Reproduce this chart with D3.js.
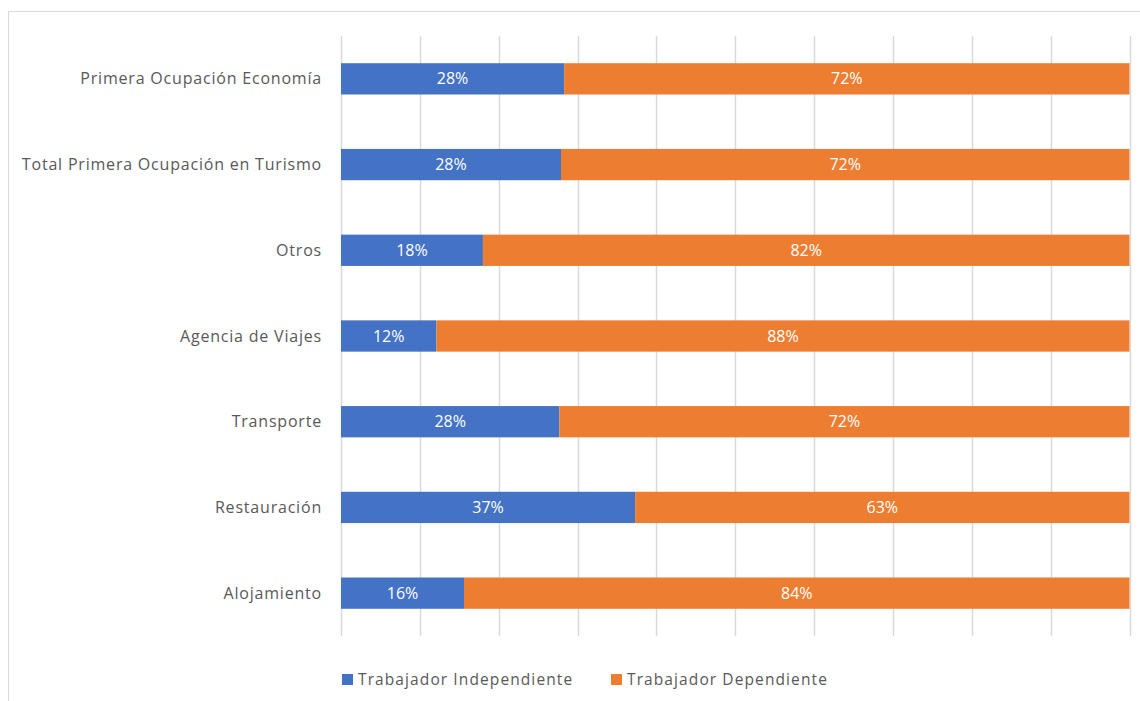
<!DOCTYPE html>
<html>
<head>
<meta charset="utf-8">
<script src="https://cdn.jsdelivr.net/npm/d3@7"></script>
<style>
  body { margin: 0; background: #fff; }
  svg { font-family: "Open Sans", "Noto Sans", sans-serif; }
</style>
</head>
<body>
<svg width="1140" height="701"></svg>
<script>
var categories = ["Primera Ocupación Economía", "Total Primera Ocupación en Turismo", "Otros",
  "Agencia de Viajes", "Transporte", "Restauración", "Alojamiento"];
var independiente = [28.3, 27.9, 18.0, 12.1, 27.7, 37.3, 15.6];
var dependiente = independiente.map(function(v) { return 100 - v; });
var seriesNames = ["Trabajador Independiente", "Trabajador Dependiente"];
var colors = ["#4472c4", "#ed7d31"];

var svg = d3.select("svg"),
    width = +svg.attr("width"),
    height = +svg.attr("height");

// chart border
svg.append("rect")
    .attr("x", 8.5).attr("y", 11.5)
    .attr("width", width).attr("height", height)
    .attr("fill", "none").attr("stroke", "#d9d9d9");

var plotLeft = 341, plotRight = 1129.5, plotTop = 36, plotBottom = 636;

var x = d3.scaleLinear().domain([0, 100]).range([plotLeft, plotRight]);
var y = d3.scaleBand().domain(categories).range([plotTop, plotBottom]).paddingInner(0.635).paddingOuter(0.3175);

// gridlines
svg.append("g").selectAll("line")
  .data(d3.range(0, 101, 10))
  .enter().append("line")
    .attr("x1", d => Math.round(x(d)) + 0.5).attr("x2", d => Math.round(x(d)) + 0.5)
    .attr("y1", plotTop).attr("y2", plotBottom)
    .attr("stroke", "#d9d9d9").attr("stroke-width", 1.5);

var rows = categories.map(function(c, i) {
  return { cat: c, values: [independiente[i], dependiente[i]] };
});

var stackData = rows.map(function(r) {
  var acc = 0;
  return r.values.map(function(v, k) {
    var seg = { cat: r.cat, x0: acc, x1: acc + v, v: v, k: k };
    acc += v;
    return seg;
  });
});

var g_bars = svg.append("g");
stackData.forEach(function(segs) {
  g_bars.selectAll(null).data(segs).enter().append("rect")
      .attr("x", d => x(d.x0))
      .attr("y", d => y(d.cat))
      .attr("width", d => x(d.x1) - x(d.x0))
      .attr("height", y.bandwidth())
      .attr("fill", d => colors[d.k]);

  g_bars.selectAll(null).data(segs).enter().append("text")
      .attr("x", d => (x(d.x0) + x(d.x1)) / 2)
      .attr("y", d => y(d.cat) + y.bandwidth() / 2)
      .attr("dy", "0.35em")
      .attr("text-anchor", "middle")
      .attr("fill", "#fff")
      .style("font-size", "16px")
      .text(d => Math.round(d.v) + "%");
});

// category labels
svg.append("g").selectAll("text")
  .data(categories)
  .enter().append("text")
    .attr("x", 322)
    .attr("y", d => y(d) + y.bandwidth() / 2)
    .attr("dy", "0.35em")
    .attr("text-anchor", "end")
    .attr("fill", "#595959")
    .style("font-size", "16px")
    .style("letter-spacing", "0.8px")
    .text(d => d);

// legend
var legendX = [342, 611];
var legend = svg.append("g").selectAll("g")
  .data(seriesNames)
  .enter().append("g")
    .attr("transform", (d, i) => "translate(" + legendX[i] + ",674)");

legend.append("rect")
    .attr("width", 11).attr("height", 11)
    .attr("fill", (d, i) => colors[i]);

legend.append("text")
    .attr("x", 16).attr("y", 5.5)
    .attr("dy", "0.35em")
    .attr("fill", "#595959")
    .style("font-size", "15.5px")
    .style("letter-spacing", "1.1px")
    .text(d => d);
</script>
</body>
</html>
